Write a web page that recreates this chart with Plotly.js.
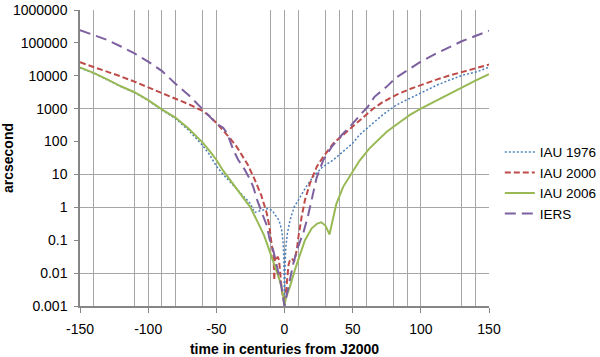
<!DOCTYPE html>
<html>
<head>
<meta charset="utf-8">
<script src="https://cdn.plot.ly/plotly-3.0.1.min.js"></script>
<style>
  body { margin: 0; background: #fff; }
  #chart { width: 600px; height: 357px; }
</style>
</head>
<body>
<div id="chart"></div>
<script>
// values (arcsecond vs centuries from J2000)
var iau1976X = [-150,-140,-130,-120,-110,-100,-90,-80,-70,-60,-55,-50,-45,-40,-35,-30,-25,-22,-19,-15,-12,-9,-6,-4,-2,-1,-0.5,0,0.5,1,2,4,7,10,13,16,21,28,36,43,50,55,62,72,82,92,102,112,121,131,141,150];
var iau1976Y = [17400,12000,7590,4680,3090,1780,910,500,214,76,40,18,10,6.0,3.8,2.2,1.3,0.7,0.75,0.85,0.92,0.8,0.55,0.4,0.2,0.08,0.03,0.001,0.02,0.063,0.15,0.4,1.0,1.6,2.8,4.3,8.5,17,28,49,89,160,280,650,1290,2090,3310,5250,7410,10500,13200,18200];

var iau2000X = [-150,-140,-130,-120,-110,-100,-90,-80,-70,-60,-55,-50,-45,-40,-35,-30,-27,-22,-17,-13,-11,-10,-9,-8,-7.5,-7,-6,-5,-4,-3,-2,-1,0,1,2,3,4,5.5,7,8,9,10,11,12.6,15,18.7,23.6,28.5,36,43,50,55,62,65,72,82,92,102,112,121,131,141,150];
var iau2000Y = [25700,18600,13800,9550,6610,4470,3090,2040,1350,850,600,370,224,126,69,32,20,7.2,2.3,0.66,0.25,0.11,0.05,0.032,0.006,0.03,0.024,0.032,0.025,0.008,0.003,0.0018,0.0011,0.0025,0.008,0.018,0.025,0.028,0.022,0.032,0.05,0.11,0.22,0.52,1.66,5.4,17,35,89,160,300,450,800,1000,1580,2630,3980,5620,7760,10200,13200,17000,21900];

var iau2006X = [-150,-140,-130,-120,-110,-100,-90,-80,-70,-60,-55,-50,-45,-40,-35,-30,-25,-20,-15,-12,-9,-6,-3,-1,0,1,4,8,11,15,20,24,27,30,33,36,38,43,49,55,62,68,75,85,92,100,110,120,130,140,150];
var iau2006Y = [17800,12300,7760,4790,3160,1820,955,537,240,93,52,28,13,6.8,3.6,2.0,1.0,0.38,0.14,0.063,0.028,0.0135,0.0052,0.002,0.001,0.0018,0.0039,0.014,0.035,0.10,0.23,0.32,0.35,0.28,0.15,0.55,1.26,4.2,10.7,26,60,105,200,400,650,1000,1660,2750,4370,7080,11200];

var iersX = [-150,-140,-130,-120,-110,-100,-90,-80,-70,-60,-55,-50,-45,-42,-40,-37.5,-34,-30,-26,-23,-20,-18,-15.5,-13,-11,-8,-5.7,-2,0,2.8,6.5,10,14,17,20,23.6,28.5,34.6,42,49,57,61,66,75,82,91,100,110,120,130,140,150];
var iersY = [245000,170000,123000,77600,47900,26900,14100,5750,2510,955,600,355,263,178,105,55,28,16,8,4.3,1.66,0.95,0.52,0.28,0.11,0.045,0.016,0.0035,0.001,0.0039,0.02,0.063,0.18,0.5,1.66,8,27.5,69,158,316,760,1120,2290,4680,8900,15100,26900,44700,70800,112000,162000,234000];

var seriesNames = ['IAU 1976', 'IAU 2000', 'IAU 2006', 'IERS'];

var yTickVals = [0.001, 0.01, 0.1, 1, 10, 100, 1000, 10000, 100000, 1000000];
var yTickText = ['0.001', '0.01', '0.1', '1', '10', '100', '1000', '10000', '100000', '1000000'];
var yGridVals = [0.01, 1, 10, 1000, 1000000];
var xTickVals = [-150, -100, -50, 0, 50, 100, 150];
var xTickText = ['-150', '-100', '-50', '0', '50', '100', '150'];
var xGridVals = [-140, -110, -90, -80, -60, -10, 10, 30, 40, 60, 80, 90, 130, 140];

document.addEventListener('DOMContentLoaded', function() {

  var data = [
    {
      x: iau1976X, y: iau1976Y, name: seriesNames[0], mode: 'lines',
      line: {color: '#4a7ebb', width: 1.5, dash: '2px,2px'}
    },
    {
      x: iau2000X, y: iau2000Y, name: seriesNames[1], mode: 'lines',
      line: {color: '#be4b48', width: 2, dash: '6px,3px'}
    },
    {
      x: iau2006X, y: iau2006Y, name: seriesNames[2], mode: 'lines',
      line: {color: '#98b954', width: 2}
    },
    {
      x: iersX, y: iersY, name: seriesNames[3], mode: 'lines',
      line: {color: '#7d60a0', width: 2, dash: '11px,6px'}
    }
  ];
  var config =
  {
    responsive: true,
    displayModeBar: false
  }
  var layout = {
      width: 600,
      height: 357,
      margin: {l: 80, r: 111, t: 10, b: 51},
      paper_bgcolor: '#fff',
      plot_bgcolor: '#fff',
      font: {family: '"Liberation Sans", Arial, sans-serif', size: 14, color: '#000'},
      showlegend: true,
      legend: {
        xref: 'container', yref: 'container',
        x: 0.833, y: 0.487, xanchor: 'left', yanchor: 'middle',
        font: {size: 13.5, color: '#000'},
        itemwidth: 30,
        borderwidth: 0
      },
      xaxis: {
        title: {text: 'time in centuries from J2000', font: {size: 14, weight: 'bold'}, standoff: 12},
        range: [-150, 150],
        tickmode: 'array',
        tickvals: xTickVals,
        ticktext: xTickText,
        ticks: 'outside', ticklen: 5, tickcolor: '#868686',
        ticklabelstandoff: 4,
        showline: true, linecolor: '#868686', linewidth: 1.5,
        showgrid: true, gridcolor: '#a6a6a6', gridwidth: 1,
        zeroline: false,
        minor: {tickmode: 'array', tickvals: xGridVals, showgrid: true, gridcolor: '#a6a6a6', gridwidth: 1, ticks: ''}
      },
      yaxis: {
        title: {text: 'arcsecond', font: {size: 14, weight: 'bold'}, standoff: 6},
        type: 'log',
        range: [-3, 6],
        tickmode: 'array',
        tickvals: yTickVals,
        ticktext: yTickText,
        ticks: 'outside', ticklen: 4, tickcolor: '#868686',
        ticklabelstandoff: 4,
        showline: true, linecolor: '#868686', linewidth: 1.5,
        showgrid: false,
        zeroline: false,
        minor: {tickmode: 'array', tickvals: yGridVals, showgrid: true, gridcolor: '#a6a6a6', gridwidth: 1, ticks: ''}
      }
  };

  Plotly.newPlot('chart', data, layout, config);
});
</script>
</body>
</html>
